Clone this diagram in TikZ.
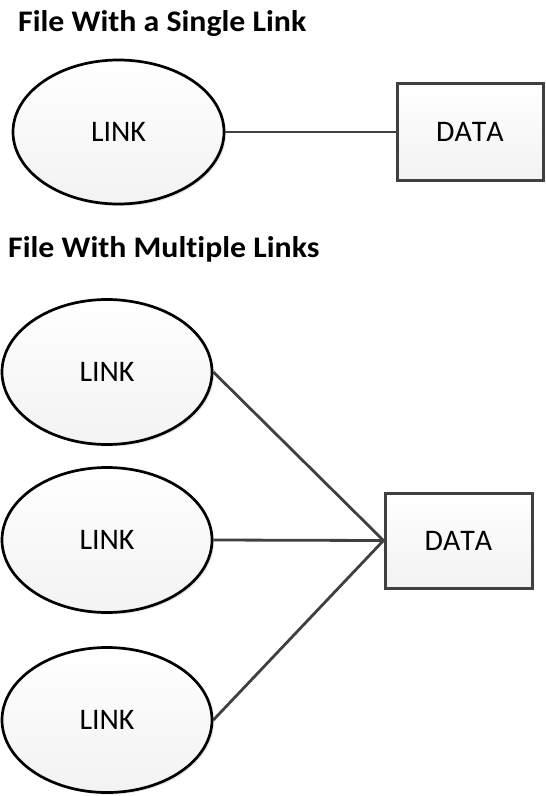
\documentclass[tikz,border=0pt]{standalone}
\usepackage{fontspec}
\setmainfont{Carlito}
\newfontfamily\titlefont[FakeStretch=1.065,Ligatures=NoCommon]{Carlito}
\newfontfamily\shapefont[Kerning=Off]{Carlito}
\usetikzlibrary{shapes.geometric,shadows}
\definecolor{edgegray}{HTML}{404040}
\begin{document}
\begin{tikzpicture}[x=1bp,y=-1bp,
  shadowed/.style={drop shadow={opacity=0.2,shadow xshift=2bp,shadow yshift=-2bp,fill=black!50}},
  linkshape/.style={ellipse,draw=black,line width=2.7bp,top color=white,bottom color=black!5,
    inner sep=0pt,shadowed,font=\shapefont\fontsize{30}{36}\selectfont},
  datashape/.style={rectangle,draw=edgegray,line width=3bp,top color=white,bottom color=black!5,
    inner sep=0pt,shadowed,font=\shapefont\fontsize{30}{36}\selectfont},
  title/.style={anchor=base west,inner sep=0pt,font=\titlefont\bfseries\fontsize{30}{36}\selectfont},
  conn/.style={draw=edgegray,line width=2.8bp}]
\useasboundingbox[fill=white] (0,0) rectangle (546,796);
% single link
\node[title] (t1) at (18,32) {File With a Single Link};
\node[linkshape,minimum width=211bp,minimum height=144bp] (l1) at (118.5,132) {LINK};
\node[datashape,minimum width=146bp,minimum height=96bp] (d1) at (470,132) {DATA};
\draw[conn] (l1.east) -- (d1.west);
% multiple links
\node[title] (t2) at (8,257) {File With Multiple Links};
\node[linkshape,minimum width=210bp,minimum height=145bp] (l2) at (107,372) {LINK};
\node[linkshape,minimum width=210bp,minimum height=145bp] (l3) at (107,540) {LINK};
\node[linkshape,minimum width=210bp,minimum height=145bp] (l4) at (107,720) {LINK};
\node[datashape,minimum width=147bp,minimum height=95bp] (d2) at (458.5,540.5) {DATA};
\draw[conn] (l2.east) -- (d2.west);
\draw[conn] (l3.east) -- (d2.west);
\draw[conn] (l4.east) -- (d2.west);
\end{tikzpicture}
\end{document}
